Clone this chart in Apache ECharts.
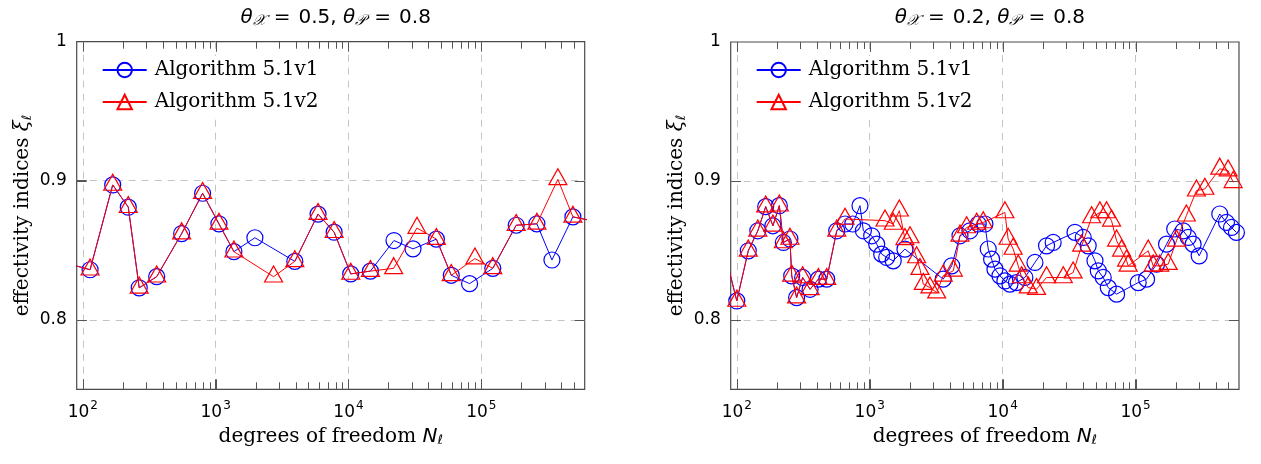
<!DOCTYPE html>
<html><head><meta charset="utf-8">
<script src="https://cdn.jsdelivr.net/npm/echarts@6/dist/echarts.min.js"></script>
<style>html,body{margin:0;padding:0;background:#fff}#c{width:1261px;height:464px}</style>
</head><body><div id="c"></div>
<script>
// ---------- data ----------
const seriesNames = ['Algorithm 5.1v1', 'Algorithm 5.1v2'];

// left panel: theta_X = 0.5, theta_P = 0.8
const leftV1X = [80,113.5,168,220,266,360,555,798,1059,1373,1975,3946,5900,7800,10400,14630,22000,30600,45900,59400,81600,122000,183000,262000,340000,489000,700000];
const leftV1Y = [0.840,0.836,0.897,0.881,0.823,0.831,0.862,0.891,0.869,0.849,0.859,0.842,0.876,0.863,0.833,0.835,0.857,0.851,0.858,0.832,0.826,0.837,0.868,0.869,0.843,0.874,0.871];
const leftV2X = [80,113.5,168,220,266,360,555,798,1059,1373,2729,3946,5900,7800,10400,14630,21900,32800,45900,59400,89500,122000,183000,262000,377000,489000,700000];
const leftV2Y = [0.840,0.836,0.897,0.881,0.823,0.831,0.862,0.891,0.869,0.849,0.831,0.842,0.876,0.863,0.833,0.835,0.837,0.866,0.858,0.832,0.844,0.837,0.868,0.869,0.901,0.874,0.871];

// right panel: theta_X = 0.2, theta_P = 0.8
const rightV1X = [88,100,122,144,165,187,209,224,251,259,282,313,356,411,475,565,652,745,845,896,1035,1129,1231,1342,1503,1841,3573,4138,4777,5675,6557,7360,7790,8260,8750,9550,10400,11350,12700,14700,17500,21400,24000,35000,40400,44000,49500,52400,57100,62300,72000,104700,121000,143900,171000,197000,228000,249000,271000,301000,430000,483000,527000,574000];
const rightV1Y = [0.835,0.8136,0.8497,0.8641,0.8815,0.8677,0.8822,0.8557,0.8582,0.8317,0.816,0.8305,0.822,0.8293,0.8293,0.8641,0.869,0.869,0.8822,0.8641,0.8605,0.8545,0.8473,0.8449,0.8425,0.8509,0.8293,0.8389,0.8605,0.8641,0.869,0.869,0.851,0.8437,0.8365,0.8317,0.828,0.8257,0.8268,0.8305,0.8413,0.8533,0.8557,0.863,0.8593,0.8533,0.8425,0.8353,0.8305,0.8232,0.8185,0.8268,0.8293,0.8401,0.8545,0.8654,0.8641,0.8593,0.8545,0.8461,0.8762,0.8701,0.8665,0.8629];
const rightV2X = [88,100,122,144,165,187,209,224,251,259,282,313,356,411,475,565,652,1303,1503,1671,1841,2010,2255,2388,2530,2837,3190,3573,4256,4777,5360,6380,7150,10400,11000,12000,13100,13900,15600,18000,21400,28600,33900,39300,46700,53900,60500,66000,72000,78500,85600,88000,124500,135600,152000,176000,203000,241000,287000,332000,430000,497000,542000];
const rightV2Y = [0.835,0.8136,0.8497,0.8641,0.8815,0.8677,0.8822,0.8557,0.8582,0.8317,0.816,0.8305,0.822,0.8293,0.8293,0.8641,0.8726,0.8714,0.869,0.8786,0.858,0.8593,0.8449,0.8365,0.8257,0.8232,0.8196,0.8317,0.8353,0.8605,0.8665,0.869,0.8701,0.8773,0.8582,0.851,0.8389,0.8305,0.8232,0.8221,0.8305,0.8305,0.834,0.8533,0.8737,0.8773,0.8773,0.8713,0.8569,0.8497,0.8425,0.8389,0.8497,0.8389,0.8389,0.8401,0.8569,0.875,0.893,0.8942,0.9087,0.9074,0.899];

// axes
const xMin = 90, xMax = 600000;
const yMin = 0.75, yMax = 1;
const xTickValues = [100, 1000, 10000, 100000];
const xMinorValues = [];
for (let d = 100; d <= 100000; d *= 10) for (let k = 2; k <= 9; k++) if (k * d < xMax) xMinorValues.push(k * d);
const yLabelValues = [0.8, 0.9, 1];
const yTickValues = [0.8, 0.9];
const panelTitles = [
  '{i|θ}{s|𝒳}{t|=}{u|0.5, }{i|θ}{s|𝒫}{t|=}{u|0.8}',
  '{i|θ}{s|𝒳}{t|=}{u|0.2, }{i|θ}{s|𝒫}{t|=}{u|0.8}'
];
const xName = '{t|degrees of freedom }{i|N}{s|ℓ}';
const yName = '{t|effectivity indices }{i|ξ}{s|ℓ}';

// ---------- layout ----------
const grids = [
  {left: 76.7, top: 41.7, width: 508, height: 347.6},
  {left: 730.7, top: 42, width: 508.3, height: 347.3}
];
const SANS = 'DejaVu Sans', SERIF = 'DejaVu Serif';
const BLUE = '#0000ff', RED = '#ff0000';
const tickColor = '#555555';
const gridLine = {color: '#c4c4c4', width: 1, type: [7, 6]};
const LBL = 20;
const MAJOR_LEN = 10, MINOR_LEN = 7;

const xAxes = [], yAxes = [], series = [], titles = [], legends = [];
grids.forEach((g, gi) => {
  const base = {type: 'log', logBase: 10, min: xMin, max: xMax, gridIndex: gi,
    axisLine: {show: false}, axisLabel: {show: false}, splitLine: {show: false}, axisTick: {show: false}};
  xAxes.push(Object.assign({}, base, {position: 'bottom',
    axisTick: {show: true, inside: true, length: MAJOR_LEN, customValues: xTickValues, lineStyle: {color: tickColor, width: 1}},
    axisLabel: {show: true, customValues: xTickValues, margin: 11,
      formatter: v => '{b|10}{p|' + Math.round(Math.log10(v)) + '}',
      rich: {b: {fontFamily: SANS, fontSize: 17, color: '#000'},
             p: {fontFamily: SANS, fontSize: 12, color: '#000', padding: [0, 0, 12, 1]}}},
    splitLine: {show: true, lineStyle: gridLine},
    name: xName, nameLocation: 'middle', nameGap: 37,
    nameTextStyle: {rich: {
      t: {fontFamily: SERIF, fontSize: LBL, color: '#000'},
      i: {fontFamily: SANS, fontStyle: 'italic', fontSize: LBL, color: '#000'},
      s: {fontFamily: SANS, fontStyle: 'italic', fontSize: 13, color: '#000', padding: [8, 0, 0, 0]}}}
  }));
  xAxes.push(Object.assign({}, base, {position: 'top'}));

  yAxes.push({type: 'value', gridIndex: gi, min: yMin, max: yMax, position: 'left',
    axisLine: {show: false},
    axisLabel: {show: true, customValues: yLabelValues, margin: 10,
      formatter: v => (Math.abs(v - 1) < 1e-9 ? '1' : v.toFixed(1)),
      fontFamily: SANS, fontSize: 17, color: '#000'},
    axisTick: {show: true, inside: true, length: MAJOR_LEN, customValues: yTickValues, lineStyle: {color: tickColor, width: 1}},
    splitLine: {show: true, lineStyle: gridLine},
    name: yName, nameLocation: 'middle', nameGap: 43, nameRotate: 90,
    nameTextStyle: {rich: {
      t: {fontFamily: SERIF, fontSize: LBL, color: '#000'},
      i: {fontFamily: SERIF, fontStyle: 'italic', fontSize: LBL, color: '#000'},
      s: {fontFamily: SANS, fontStyle: 'italic', fontSize: 13, color: '#000', padding: [8, 0, 0, 0]}}}
  });
  yAxes.push({type: 'value', gridIndex: gi, min: yMin, max: yMax, position: 'right',
    axisLine: {show: false}, axisLabel: {show: false}, splitLine: {show: false}, axisTick: {show: false}});

  titles.push({text: panelTitles[gi], left: g.left + g.width / 2, top: 1, textAlign: 'center',
    textStyle: {fontWeight: 'normal', rich: {
      i: {fontFamily: SANS, fontStyle: 'italic', fontWeight: 'normal', fontSize: 20, color: '#000'},
      s: {fontFamily: SANS, fontStyle: 'italic', fontWeight: 'normal', fontSize: 15, color: '#000', padding: [8, 0, 0, 0]},
      t: {fontFamily: SANS, fontWeight: 'normal', fontSize: 20, color: '#000', padding: [0, 8, 0, 8]},
      u: {fontFamily: SANS, fontWeight: 'normal', fontSize: 20, color: '#000'}}}});

  legends.push({left: g.left + 21, top: 56, orient: 'vertical', selectedMode: false,
    itemWidth: 44, itemHeight: 18, itemGap: 12, padding: [4, 8, 4, 4], backgroundColor: '#fff',
    data: seriesNames,
    textStyle: {fontFamily: SERIF, fontSize: LBL, color: '#000', padding: [0, 0, 0, 3]}});
});

// tick marks (inside, on all four sides) drawn through the axes' own coordinate mapping
function tickLine(x1, y1, x2, y2) {
  return {type: 'line', shape: {x1, y1, x2, y2}, style: {stroke: tickColor, lineWidth: 1}};
}
function xTickRender(params, api) {
  const v = api.value(0), len = api.value(1) ? MAJOR_LEN : MINOR_LEN;
  const b = api.coord([v, yMin]), t = api.coord([v, yMax]);
  const bx = Math.round(b[0]) + 0.5;
  return {type: 'group', children: [tickLine(bx, b[1], bx, b[1] - len), tickLine(bx, t[1], bx, t[1] + len)]};
}
function yTickRender(params, api) {
  const v = api.value(1);
  const l = api.coord([xMin, v]), r = api.coord([xMax, v]);
  const y = Math.round(l[1]) + 0.5;
  return {type: 'group', children: [tickLine(l[0], y, l[0] + MAJOR_LEN, y), tickLine(r[0], y, r[0] - MAJOR_LEN, y)]};
}
const xTickData = xMinorValues.map(v => [v, 0]).concat(xTickValues.map(v => [v, 1]));
const yTickData = yTickValues.map(v => [xMin, v]);

function pairs(xs, ys) { return xs.map((x, i) => [x, ys[i]]); }
const panelData = [[pairs(leftV1X, leftV1Y), pairs(leftV2X, leftV2Y)], [pairs(rightV1X, rightV1Y), pairs(rightV2X, rightV2Y)]];
panelData.forEach((pd, gi) => {
  const xi = gi * 2, yi = gi * 2;
  series.push({type: 'custom', name: 'xticks' + gi, xAxisIndex: xi, yAxisIndex: yi, data: xTickData,
    renderItem: xTickRender, silent: true, clip: false, z: 1});
  series.push({type: 'custom', name: 'yticks' + gi, xAxisIndex: xi, yAxisIndex: yi, data: yTickData,
    renderItem: yTickRender, silent: true, clip: false, z: 1});
  series.push({type: 'line', name: seriesNames[0], xAxisIndex: xi, yAxisIndex: yi, data: pd[0],
    symbol: 'circle', symbolSize: 16, showAllSymbol: true, clip: true,
    lineStyle: {color: BLUE, width: 1}, itemStyle: {color: 'rgba(255,255,255,0)', borderColor: BLUE, borderWidth: 1.2},
    emphasis: {disabled: true}, z: 2});
  series.push({type: 'line', name: seriesNames[1], xAxisIndex: xi, yAxisIndex: yi, data: pd[1],
    symbol: 'triangle', symbolSize: [18, 16], symbolOffset: [0, -2.7], showAllSymbol: true, clip: true,
    lineStyle: {color: RED, width: 1}, itemStyle: {color: 'rgba(255,255,255,0)', borderColor: RED, borderWidth: 1.2},
    emphasis: {disabled: true}, z: 3});
});

const chart = echarts.init(document.getElementById('c'), null, {renderer: 'canvas'});
chart.setOption({
  animation: false,
  backgroundColor: '#fff',
  title: titles,
  legend: legends,
  grid: grids.map(g => Object.assign({show: true, borderColor: '#4a4a4a', borderWidth: 1.2, backgroundColor: 'transparent', containLabel: false}, g)),
  xAxis: xAxes,
  yAxis: yAxes,
  series: series
});
</script></body></html>
